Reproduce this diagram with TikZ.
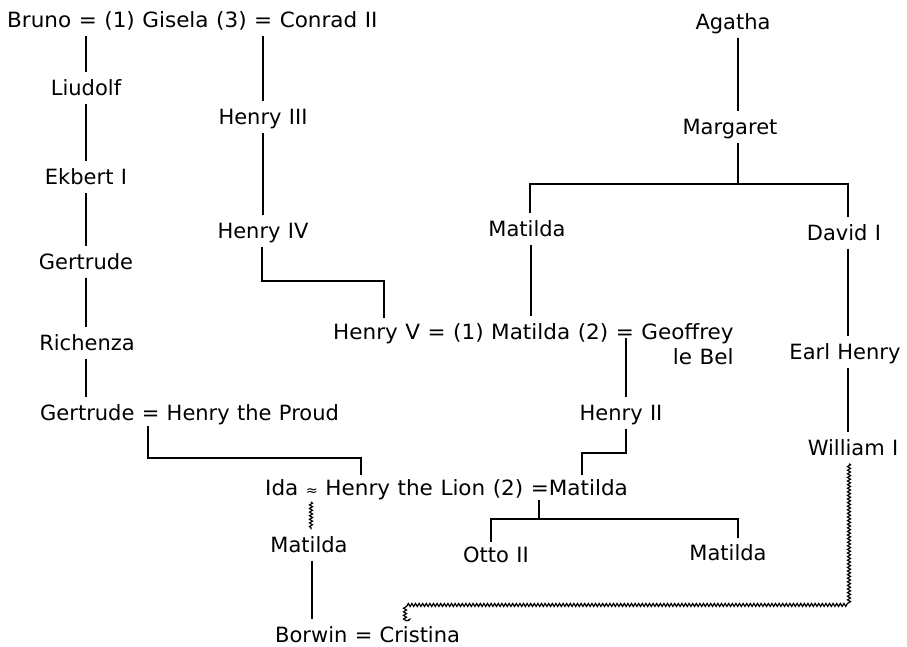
\documentclass[tikz,border=0pt]{standalone}
\usepackage{fontspec}
\setmainfont{DejaVu Sans}[WordSpace=1.1]
\newfontfamily\widefont{DejaVu Sans}[WordSpace=1.1,FakeStretch=1.025]
\usetikzlibrary{positioning,calc,decorations.pathmorphing}

\begin{document}
\begin{tikzpicture}[
  x=1pt, y=-1pt,
  every node/.style = {font=\fontsize{21}{25}\selectfont, inner xsep=2pt,
    inner ysep=3pt, text height=20pt, text depth=5pt},
  wide/.style = {font=\fontsize{21}{25}\selectfont\widefont},
  kin/.style = {draw, line width=1.4pt},
  wavy/.style = {draw, line width=1.2pt, decorate,
    decoration={snake, amplitude=1.5pt, segment length=3.6pt}}
]
  \useasboundingbox (0,0) rectangle (907,646);
  % left branch
  \node[wide, anchor=west] (top) at (5,20) {Bruno = (1) Gisela (3) = Conrad II};
  \node (liudolf) at (86,88) {Liudolf};
  \node (ekbert) at (86,177) {Ekbert I};
  \node (gertrude) at (86,262) {Gertrude};
  \node (richenza) at (87,343) {Richenza};
  \node[anchor=west] (proud) at (38,413) {Gertrude = Henry the Proud};
  \node (henryiii) at (263,117) {Henry III};
  \node (henryiv) at (263,231) {Henry IV};
  % right branch
  \node (agatha) at (733,22) {Agatha};
  \node (margaret) at (730,127) {Margaret};
  \node (matilda) at (527,229) {Matilda};
  \node (david) at (844,233) {David I};
  \node (earlhenry) at (845,352) {Earl Henry};
  \node (william) at (853,448) {William I};
  \node[wide, anchor=north west, align=right, text height=45pt] (henryv) at (331,316)
    {Henry V = (1) Matilda (2) = Geoffrey\\le Bel};
  \node (henryii) at (621,413) {Henry II};
  \node[wide, anchor=west] (lion) at (263,488)
    {Ida {\fontsize{14}{14}\selectfont ≈} Henry the Lion (2) =Matilda};
  \node (matildab) at (309,545) {Matilda};
  \node (otto) at (496,555) {Otto II};
  \node (matildac) at (728,553) {Matilda};
  \node[anchor=west] (borwin) at (273,635) {Borwin = Cristina};

  % attachment points
  \coordinate (hv) at (384,318);
  \coordinate (mbar) at (738,184);
  \coordinate (geq) at (626,338);
  \coordinate (peq) at (148,426);
  \coordinate (lionh) at (361,475);
  \coordinate (lionm) at (582,475);
  \coordinate (lionk) at (539,500);
  \coordinate (ottotop) at (491,542);
  \coordinate (mattop) at (738,538);
  \coordinate (idaw) at (311,502);
  \coordinate (wbar) at (409,603);
  \coordinate (crist) at (409,621);

  \draw[kin] (top.south -| 86,0) -- (liudolf.north -| 86,0);
  \draw[kin] (liudolf) -- (ekbert);
  \draw[kin] (ekbert) -- (gertrude);
  \draw[kin] (gertrude) -- (richenza.north -| 86,0);
  \draw[kin] (richenza.south -| 86,0) -- (proud.north -| 86,0);
  \draw[kin] (top.south -| henryiii) -- (henryiii);
  \draw[kin] (henryiii) -- (henryiv);
  \draw[kin] (henryiv.south -| 262,0) -- (262,281) -| (hv);

  \draw[kin] (agatha.south -| 738,0) -- (margaret.north -| 738,0);
  \draw[kin] (margaret.south -| 738,0) -- (mbar);
  \draw[kin] (matilda.north -| 530,0) |- (mbar) -| (david.north -| 848,0);
  \draw[kin] (matilda.south -| 531,0) -- (henryv.north -| 531,0);
  \draw[kin] (david.south -| 848,0) -- (earlhenry.north -| 848,0);
  \draw[kin] (earlhenry.south -| 848,0) -- (william.north -| 848,0);
  \draw[kin] (geq) -- (geq |- henryii.north);
  \draw[kin] (geq |- henryii.south) -- (626,453) -| (lionm);
  \draw[kin] (peq) -- (148,458) -| (lionh);

  \draw[kin] (lionk) -- (539,519) coordinate (kbar);
  \draw[kin] (ottotop) |- (kbar) -| (mattop);
  \draw[kin] (matildab.south -| 312,0) -- (borwin.north -| 312,0);

  \draw[wavy] (idaw) -- (idaw |- matildab.north);
  \draw[wavy] (william.south -| 849,0) -- (849,603) -- (wbar) -- (crist);
\end{tikzpicture}
\end{document}
